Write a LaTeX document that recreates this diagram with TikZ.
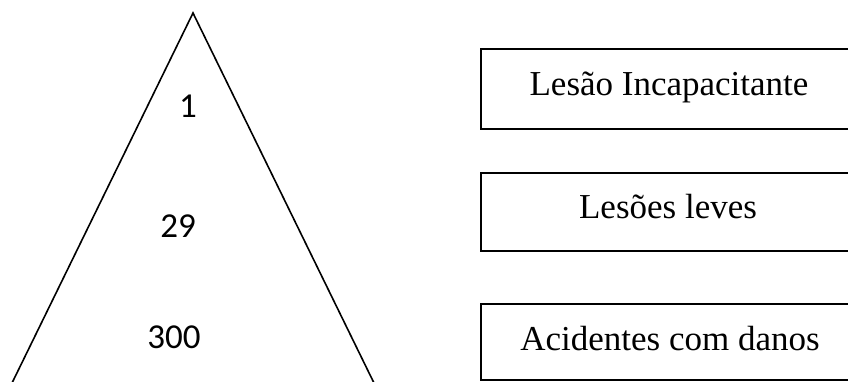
\documentclass[tikz,border=0pt]{standalone}
\usepackage{fontspec}
\usetikzlibrary{calc}
\setmainfont{Liberation Serif}
\newfontfamily\numfont{Carlito}
\begin{document}
\begin{tikzpicture}[x=1pt,y=1pt,
  catbox/.style={draw=black,line width=2pt,rectangle,inner sep=0pt,minimum width=400pt,anchor=north west},
  cattext/.style={font=\fontsize{35}{38}\selectfont,anchor=base,inner sep=0pt},
  numtext/.style={font=\numfont\fontsize{35}{38}\selectfont,anchor=base,inner sep=0pt}]
\useasboundingbox (0,0) rectangle (848,381);
\clip (0,0) rectangle (848,381);
% triangle
\coordinate (apex) at (193,368);
\coordinate (bl) at (13,0);
\coordinate (br) at (373,0);
\draw[line width=1.6pt,line join=miter] ($(bl)!-0.05!(apex)$) -- (apex) -- ($(br)!-0.05!(apex)$);
% numbers
\node[numtext] (n1) at (188,264) {1};
\node[numtext] (n29) at (178,144) {29};
\node[numtext] (n300) at (174,33) {300};
% boxes
\node[catbox,minimum height=80pt] (b1) at (480,333) {};
\node[catbox,minimum height=78pt] (b2) at (480,209) {};
\node[catbox,minimum height=76pt] (b3) at (480,78) {};
\node[cattext] (t1) at (669,285) {Lesão Incapacitante};
\node[cattext] (t2) at (668,163) {Lesões leves};
\node[cattext] (t3) at (670,31) {Acidentes com danos};
\end{tikzpicture}
\end{document}
